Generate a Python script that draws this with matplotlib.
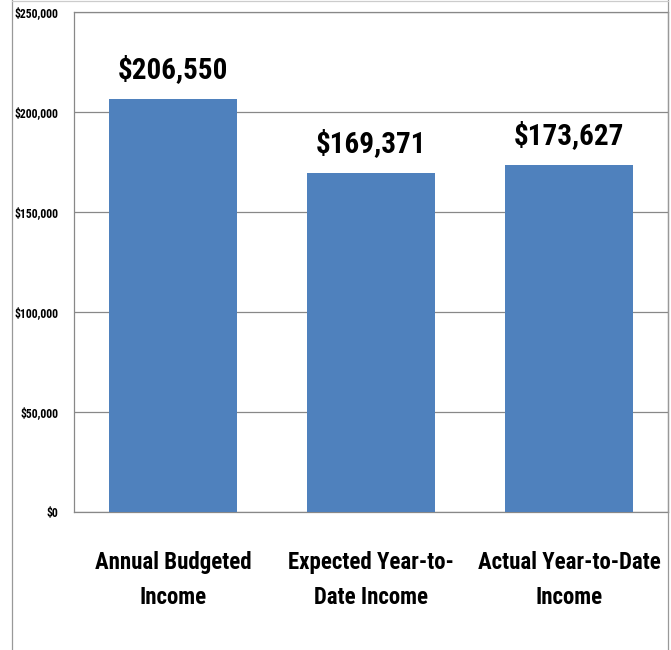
import matplotlib.pyplot as plt
from matplotlib.ticker import FuncFormatter
from matplotlib.lines import Line2D
from matplotlib import font_manager

categories = ["Annual Budgeted\nIncome", "Expected Year-to-\nDate Income", "Actual Year-to-Date\nIncome"]
values = [206550, 169371, 173627]
yticks = [0, 50000, 100000, 150000, 200000, 250000]

# pick a narrow font if one is around
names = set(f.name for f in font_manager.fontManager.ttflist)
narrow = None
for n in ['Liberation Sans Narrow', 'Roboto Condensed', 'Open Sans Condensed', 'DejaVu Sans Condensed']:
    if n in names:
        narrow = n
        break
if narrow:
    plt.rcParams['font.family'] = [narrow, 'DejaVu Sans']
    cat_size, val_size, tick_size = 16.5, 21, 8.5
else:
    plt.rcParams['font.family'] = ['Liberation Sans', 'DejaVu Sans']
    cat_size, val_size, tick_size = 13, 17, 7

fig = plt.figure(figsize=(6.71, 6.5), dpi=100)
ax = fig.add_axes([74/671, 1-512/650, 594/671, 500/650])

x = range(len(values))
ax.bar(x, values, width=0.645, color='#4F81BD', zorder=3)
for i, v in zip(x, values):
    ax.annotate("${:,}".format(v), (i, v), xytext=(0, 21), textcoords='offset points',
                ha='center', va='center', fontsize=val_size, fontweight='bold')

ax.set_xlim(-0.5, 2.5)
ax.set_ylim(0, 250000)
ax.set_yticks(yticks)
ax.yaxis.set_major_formatter(FuncFormatter(lambda v, p: "${:,.0f}".format(v)))
ax.set_xticks(list(x))
ax.set_xticklabels(categories, fontsize=cat_size, fontweight='bold', linespacing=1.7)
ax.tick_params(axis='x', length=0, pad=28)
ax.tick_params(axis='y', length=0, pad=11, labelsize=tick_size)
for lab in ax.get_yticklabels():
    lab.set_fontweight('bold')
ax.grid(axis='y', color='#888888', linewidth=0.9, zorder=0)
for s in ax.spines.values():
    s.set_color('#888888')
    s.set_linewidth(0.9)

# outer chart frame
fig.add_artist(Line2D([12/671, 12/671], [0, 1], color='#999999', linewidth=0.9))
fig.add_artist(Line2D([668/671, 668/671], [0, 1], color='#999999', linewidth=0.9))
fig.add_artist(Line2D([12/671, 668/671], [0.999, 0.999], color='#cccccc', linewidth=0.9))

fig.savefig('out.png', dpi=100)
